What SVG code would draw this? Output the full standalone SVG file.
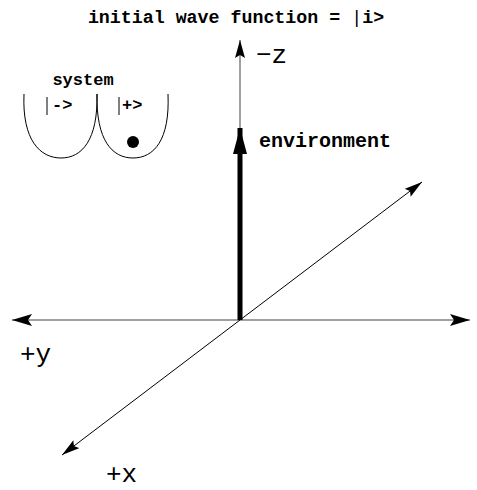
<svg xmlns="http://www.w3.org/2000/svg" width="477" height="490" viewBox="0 0 477 490">
<style>
.b{font-family:"Liberation Mono","Courier New",monospace;font-weight:bold;fill:#000}
.r{font-family:"Liberation Mono","Courier New",monospace;fill:#000}
.grey{stroke:#808080;stroke-width:1.5;fill:none}
.thin{stroke:#000;stroke-width:1;fill:none}
.well{stroke:#000;stroke-width:1;fill:none}
</style>
<defs>
<marker id="ah" markerUnits="userSpaceOnUse" markerWidth="20" markerHeight="12" viewBox="0 0 20 12" refX="20" refY="6" orient="auto">
<path d="M0,0 L20,6 L0,12 L4,6 Z" fill="#000"/>
</marker>
<marker id="ahs" markerUnits="userSpaceOnUse" markerWidth="18" markerHeight="10" viewBox="0 0 18 10" refX="18" refY="5" orient="auto">
<path d="M0,0 L18,5 L0,10 L3,5 Z" fill="#000"/>
</marker>
<marker id="ahb" markerUnits="userSpaceOnUse" markerWidth="26" markerHeight="14" viewBox="0 0 26 14" refX="26" refY="7" orient="auto">
<path d="M0,0 L26,7 L0,14 Z" fill="#000"/>
</marker>
</defs>
<text id="title" class="b" x="236" y="23" font-size="18.3" text-anchor="middle">initial wave function = <tspan font-weight="normal">|</tspan>i&gt;</text>
<g id="connectors">
<line id="axis-y" class="grey" x1="240" y1="320" x2="12" y2="320" marker-end="url(#ah)"/>
<line id="axis-y2" class="grey" x1="240" y1="320" x2="470" y2="320" marker-end="url(#ah)"/>
<line id="axis-z" class="grey" x1="240" y1="320" x2="240" y2="40" marker-end="url(#ahs)"/>
<line id="axis-x" class="thin" x1="240" y1="320" x2="62" y2="455" marker-end="url(#ahs)"/>
<line id="axis-x2" class="thin" x1="240" y1="320" x2="422" y2="182" marker-end="url(#ahs)"/>
<line id="env-arrow" stroke="#000" stroke-width="5" x1="240" y1="320" x2="240" y2="128" marker-end="url(#ahb)"/>
</g>
<g id="label-z"><text class="r" x="256" y="63" font-size="26">−z</text></g>
<g id="label-y"><text class="r" x="20" y="362" font-size="26">+y</text></g>
<g id="label-x"><text class="r" x="106" y="482" font-size="26">+x</text></g>
<g id="environment"><text class="b" x="259" y="147" font-size="20">environment</text></g>
<g id="system">
<text class="b" x="83" y="85" font-size="17" text-anchor="middle">system</text>
<path class="well" d="M24,94 C22,140 40,158 61,158 C82,158 98,140 97,94 C96,140 112,158 133,158 C154,158 170,140 168,94"/>
<line class="thin" x1="47" y1="97" x2="47" y2="115"/>
<text class="b" x="52" y="110" font-size="17">-&gt;</text>
<line class="thin" x1="119" y1="97" x2="119" y2="115"/>
<text class="b" x="122" y="110" font-size="17">+&gt;</text>
<circle cx="133" cy="142" r="6" fill="#000"/>
</g>
</svg>
